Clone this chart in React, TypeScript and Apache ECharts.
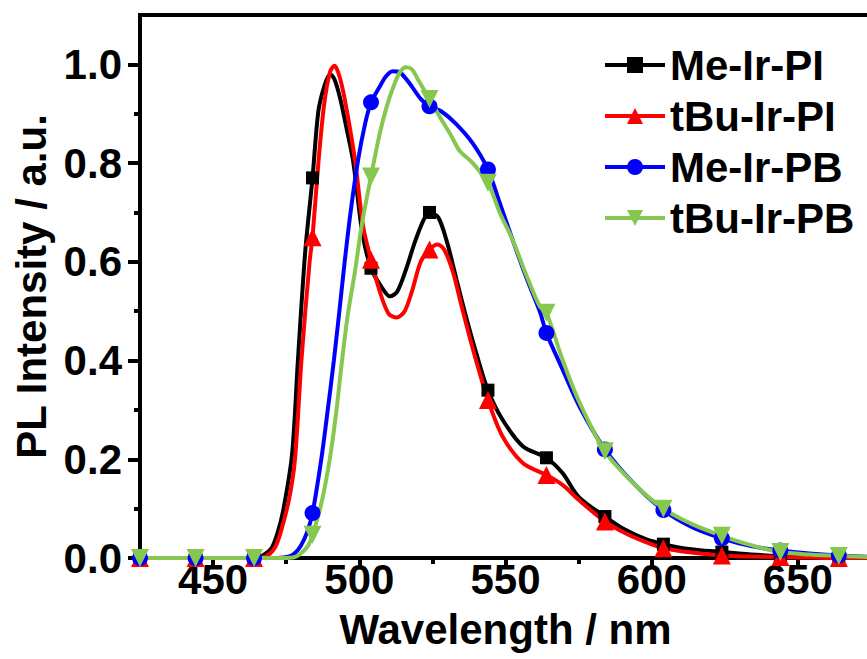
import React, { useEffect, useRef } from "react";
import * as echarts from "echarts";

const seriesNames = ["Me-Ir-PI", "tBu-Ir-PI", "Me-Ir-PB", "tBu-Ir-PB"];
const seriesColors = ["#000000", "#ff0000", "#0000ff", "#86c74f"];

const markerWavelengths = [425, 444, 464, 484, 504, 524, 544, 564, 584, 604, 624, 644, 664];

const meIrPIx = [425, 444, 464, 467, 470, 472, 474, 477, 479, 481.5, 484, 486, 488, 490, 491.5, 493.5, 496, 498, 501, 504, 507.5, 510.5, 513, 516, 519, 522, 524, 527, 530, 533, 536, 540, 544, 549, 556, 564, 569.5, 575, 584, 591, 598, 604, 612, 624, 634, 644, 654, 664, 675];
const meIrPIy = [0, 0, 0, 0.005, 0.02, 0.05, 0.097, 0.21, 0.4, 0.62, 0.77, 0.905, 0.955, 0.98, 0.97, 0.93, 0.86, 0.8, 0.66, 0.587, 0.55, 0.53, 0.54, 0.585, 0.64, 0.685, 0.7, 0.69, 0.64, 0.57, 0.5, 0.415, 0.34, 0.28, 0.226, 0.203, 0.172, 0.124, 0.084, 0.057, 0.038, 0.028, 0.019, 0.012, 0.007, 0.004, 0.002, 0.001, 0];

const tBuIrPIx = [425, 444, 464, 468, 471, 473, 476, 478, 480.2, 483, 484, 486, 488, 490, 491.5, 493, 495, 498.5, 501.3, 504, 507, 510, 512.8, 515.5, 518, 521, 524, 526.8, 529, 532, 535, 539, 544, 549, 556, 564, 569.5, 575, 584, 591, 598, 604, 612, 624, 634, 644, 654, 664, 675];
const tBuIrPIy = [0, 0, 0, 0.003, 0.02, 0.05, 0.12, 0.2, 0.4, 0.6, 0.65, 0.8, 0.92, 0.985, 0.997, 0.98, 0.93, 0.807, 0.672, 0.604, 0.54, 0.495, 0.487, 0.5, 0.54, 0.6, 0.625, 0.635, 0.625, 0.58, 0.51, 0.42, 0.32, 0.246, 0.192, 0.168, 0.148, 0.118, 0.074, 0.05, 0.032, 0.02, 0.012, 0.005, 0.003, 0.002, 0.001, 0, 0];

const meIrPBx = [425, 444, 464, 472, 476, 478, 480, 482, 484, 487, 489, 491.3, 493, 495, 497, 499.6, 502, 504, 507, 509, 511.4, 513.5, 515.5, 518, 521, 524, 528, 533, 538.8, 544, 548, 552.4, 557, 561.7, 564, 569.6, 575.3, 584, 594, 604, 614, 624, 634, 644, 654, 664, 675];
const meIrPBy = [0, 0, 0, 0, 0.003, 0.01, 0.025, 0.05, 0.091, 0.2, 0.29, 0.4, 0.49, 0.6, 0.7, 0.807, 0.88, 0.923, 0.955, 0.975, 0.986, 0.985, 0.974, 0.955, 0.93, 0.915, 0.905, 0.88, 0.84, 0.787, 0.72, 0.645, 0.57, 0.5, 0.456, 0.381, 0.307, 0.22, 0.15, 0.097, 0.062, 0.04, 0.024, 0.015, 0.009, 0.005, 0.002];

const tBuIrPBx = [425, 444, 464, 474, 478, 480.2, 482.5, 484, 487, 489.9, 492, 494.1, 496, 498.5, 501, 504, 507, 509.4, 512, 514, 516, 518, 520, 524, 527.5, 531, 534.3, 538.8, 544, 548, 552.4, 557, 561.7, 564, 569.6, 575.3, 584, 594, 604, 614, 624, 634, 644, 654, 664, 675];
const tBuIrPBy = [0, 0, 0, 0, 0.002, 0.01, 0.025, 0.047, 0.11, 0.2, 0.29, 0.4, 0.49, 0.58, 0.68, 0.773, 0.86, 0.915, 0.96, 0.985, 0.994, 0.99, 0.97, 0.93, 0.894, 0.86, 0.825, 0.8, 0.76, 0.7, 0.645, 0.575, 0.51, 0.497, 0.4, 0.315, 0.216, 0.15, 0.1, 0.068, 0.045, 0.026, 0.012, 0.007, 0.004, 0.002];

const seriesX = [meIrPIx, tBuIrPIx, meIrPBx, tBuIrPBx];
const seriesY = [meIrPIy, tBuIrPIy, meIrPBy, tBuIrPBy];

const xMajorTicks = [450, 500, 550, 600, 650];
const xMinorTicks = [475, 525, 575, 625];
const yMajorTicks = [0, 0.2, 0.4, 0.6, 0.8, 1.0];
const yMinorTicks = [0.1, 0.3, 0.5, 0.7, 0.9];

const FONT = "'Liberation Sans', Arial, sans-serif";

export default function App() {
  const ref = useRef<HTMLDivElement>(null);

  useEffect(() => {
    if (!ref.current) return;
    const chart = echarts.init(ref.current, null, { renderer: "svg" });
    const symbols = ["rect", "triangle", "circle", "triangle"];
    const sizes = [13, 18, 16, 18];
    const rotates = [0, 0, 0, 180];
    const labelStyle = { color: "#000", fontSize: 42, fontWeight: "bold" as const, fontFamily: FONT };
    const tickLine = { width: 4, color: "#000" };

    const series = seriesNames.map((name, i) => ({
      name,
      type: "line",
      xAxisIndex: 0,
      yAxisIndex: 0,
      smooth: 0.3,
      symbol: symbols[i],
      symbolSize: sizes[i],
      symbolRotate: rotates[i],
      color: seriesColors[i],
      lineStyle: { width: 4, color: seriesColors[i] },
      itemStyle: { color: seriesColors[i] },
      data: seriesX[i].map((x, k) =>
        markerWavelengths.includes(x)
          ? { value: [x, seriesY[i][k]] }
          : { value: [x, seriesY[i][k]], symbol: "none" }
      ),
    }));

    chart.setOption({
      animation: false,
      backgroundColor: "#fff",
      grid: {
        left: 140,
        top: 15,
        right: 9,
        bottom: 101,
        show: true,
        borderWidth: 4,
        borderColor: "#000",
        backgroundColor: "transparent",
      },
      legend: {
        data: seriesNames,
        orient: "vertical",
        left: 598,
        top: 39,
        itemWidth: 60,
        itemHeight: 20,
        itemGap: 9,
        lineStyle: { width: 4 },
        textStyle: { ...labelStyle, lineHeight: 42 },
      },
      xAxis: [
        {
          type: "value",
          min: 425,
          max: 675,
          position: "bottom",
          axisLine: { show: false },
          axisTick: { show: true, customValues: xMajorTicks, length: 10, lineStyle: tickLine },
          axisLabel: { ...labelStyle, customValues: xMajorTicks, margin: 0 },
          splitLine: { show: false },
          name: "Wavelength / nm",
          nameLocation: "middle",
          nameGap: 50,
          nameTextStyle: labelStyle,
        },
        {
          type: "value",
          min: 425,
          max: 675,
          position: "bottom",
          axisLine: { show: false },
          axisTick: { show: true, customValues: xMinorTicks, length: 6, lineStyle: tickLine },
          axisLabel: { show: false },
          splitLine: { show: false },
        },
      ],
      yAxis: [
        {
          type: "value",
          min: 0,
          max: 1.1,
          position: "left",
          axisLine: { show: false },
          axisTick: { show: true, customValues: yMajorTicks, length: 12, lineStyle: tickLine },
          axisLabel: {
            ...labelStyle,
            customValues: yMajorTicks,
            margin: 18,
            formatter: (v: number) => v.toFixed(1),
          },
          splitLine: { show: false },
          name: "PL Intensity / a.u.",
          nameLocation: "middle",
          nameGap: 86,
          nameTextStyle: labelStyle,
        },
        {
          type: "value",
          min: 0,
          max: 1.1,
          position: "left",
          axisLine: { show: false },
          axisTick: { show: true, customValues: yMinorTicks, length: 6, lineStyle: tickLine },
          axisLabel: { show: false },
          splitLine: { show: false },
        },
      ],
      series,
    });

    return () => chart.dispose();
  }, []);

  return (
    <div style={{ position: "absolute", left: 0, top: 0, width: 867, height: 659, overflow: "hidden", background: "#fff" }}>
      <div ref={ref} style={{ width: 880, height: 659 }} />
    </div>
  );
}
